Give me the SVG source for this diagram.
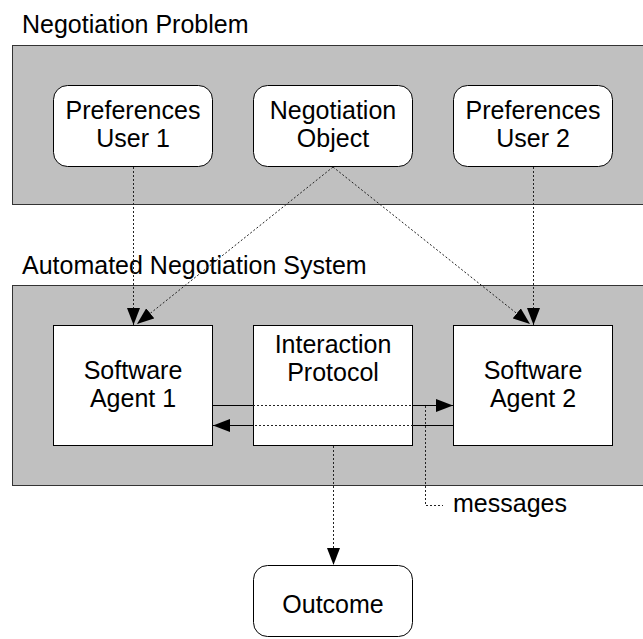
<svg xmlns="http://www.w3.org/2000/svg" width="643" height="639" viewBox="0 0 643 639">
<defs>
<style>
.panel{fill:#c0c0c0;stroke:#333;stroke-width:1}
.node{fill:#fff;stroke:#000;stroke-width:1}
text{font-family:"Liberation Sans",Arial,sans-serif;font-size:25px;fill:#000}
.c{text-anchor:middle}
.dot{fill:none;stroke:#222;stroke-width:1;stroke-dasharray:2,2}
.sol{fill:none;stroke:#000;stroke-width:1}
</style>
<marker id="ah" markerWidth="17" markerHeight="13" refX="17" refY="6.5" orient="auto" markerUnits="userSpaceOnUse">
<path d="M0,0 L17,6.5 L0,13 Z" fill="#000"/>
</marker>
</defs>
<rect width="643" height="639" fill="#fff"/>
<text x="22" y="33">Negotiation Problem</text>
<rect class="panel" x="12.5" y="45.5" width="640" height="159"/>
<text x="22" y="274">Automated Negotiation System</text>
<rect class="panel" x="12.5" y="285.5" width="640" height="200"/>

<g id="pref1"><rect class="node" x="53.5" y="85.5" width="159" height="81" rx="14"/>
<text class="c" x="133" y="119">Preferences</text><text class="c" x="133" y="147">User 1</text></g>
<g id="negobj"><rect class="node" x="253.5" y="85.5" width="159" height="81" rx="14"/>
<text class="c" x="333" y="119">Negotiation</text><text class="c" x="333" y="147">Object</text></g>
<g id="pref2"><rect class="node" x="453.5" y="85.5" width="159" height="81" rx="14"/>
<text class="c" x="533" y="119">Preferences</text><text class="c" x="533" y="147">User 2</text></g>

<g id="agent1"><rect class="node" x="53.5" y="325.5" width="159" height="120"/>
<text class="c" x="133" y="379">Software</text><text class="c" x="133" y="407">Agent 1</text></g>
<g id="protocol"><rect class="node" x="253.5" y="325.5" width="159" height="120"/>
<text class="c" x="333" y="353">Interaction</text><text class="c" x="333" y="381">Protocol</text></g>
<g id="agent2"><rect class="node" x="453.5" y="325.5" width="159" height="120"/>
<text class="c" x="533" y="379">Software</text><text class="c" x="533" y="407">Agent 2</text></g>

<g id="outcome"><rect class="node" x="253.5" y="565.5" width="159" height="71" rx="14"/>
<text class="c" x="333" y="613">Outcome</text></g>

<g id="connectors">
<line class="dot" x1="133.5" y1="167" x2="133.5" y2="325" marker-end="url(#ah)"/>
<line class="dot" x1="333" y1="167" x2="137" y2="324" marker-end="url(#ah)"/>
<line class="dot" x1="333" y1="167" x2="530" y2="324" marker-end="url(#ah)"/>
<line class="dot" x1="533.5" y1="167" x2="533.5" y2="325" marker-end="url(#ah)"/>
<line class="sol" x1="213" y1="405.5" x2="253" y2="405.5"/>
<line class="dot" x1="253" y1="405.5" x2="413" y2="405.5"/>
<line class="sol" x1="413" y1="405.5" x2="453" y2="405.5" marker-end="url(#ah)"/>
<line class="sol" x1="453" y1="425.5" x2="413" y2="425.5"/>
<line class="dot" x1="413" y1="425.5" x2="253" y2="425.5"/>
<line class="sol" x1="253" y1="425.5" x2="213" y2="425.5" marker-end="url(#ah)"/>
<line class="dot" x1="333.5" y1="446" x2="333.5" y2="565" marker-end="url(#ah)"/>
<polyline class="dot" points="425.5,406 425.5,505.5 443,505.5"/>
</g>
<text x="453" y="512">messages</text>
</svg>
